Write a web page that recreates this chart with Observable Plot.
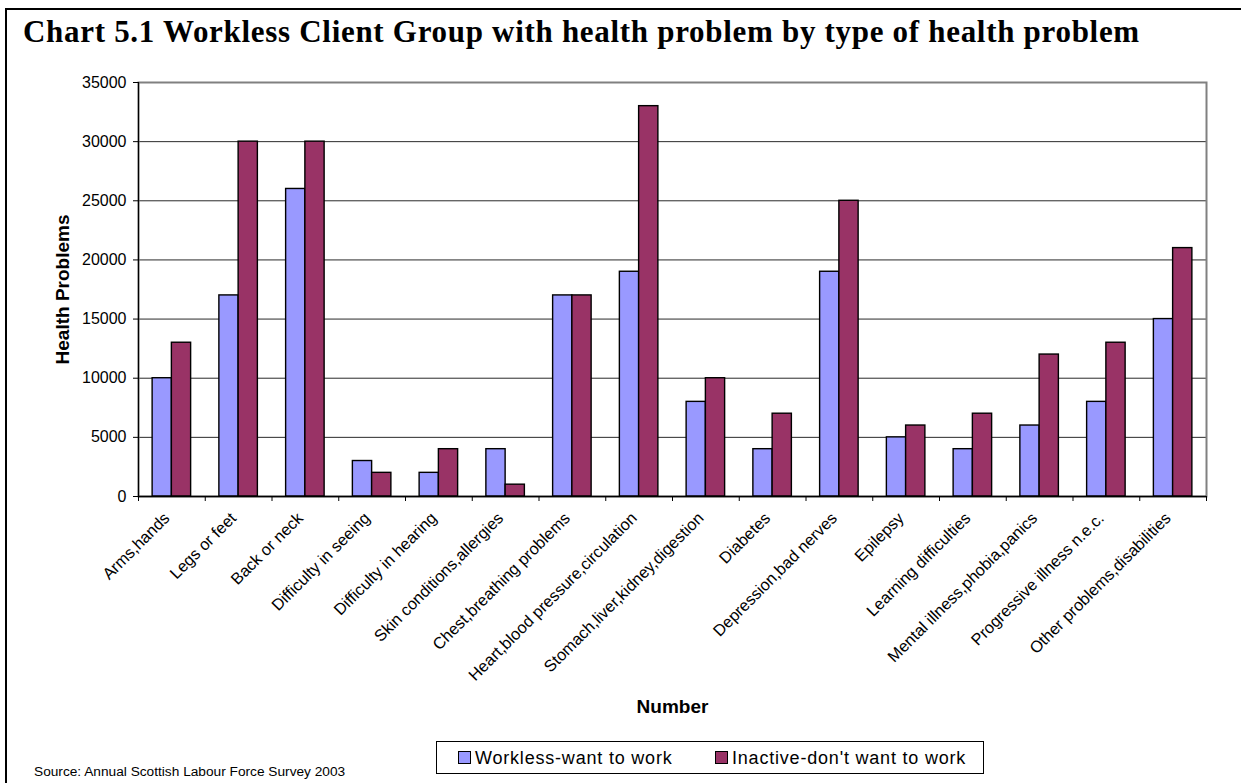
<!DOCTYPE html>
<html>
<head>
<meta charset="utf-8">
<script src="https://cdn.jsdelivr.net/npm/d3@7"></script>
<script src="https://cdn.jsdelivr.net/npm/@observablehq/plot@0.6"></script>
<style>
  html, body { margin: 0; padding: 0; background: #fff; }
  #wrap { position: relative; width: 1241px; height: 783px; overflow: hidden; background: #fff; }
  #border { position: absolute; left: 5px; top: 8px; width: 1400px; height: 900px; border-left: 2px solid #000; border-top: 2px solid #000; }
  #chart { position: absolute; left: 0; top: 60px; }
  #overlay { position: absolute; left: 0; top: 0; pointer-events: none; }
  g[aria-label="y-axis label"] text, g[aria-label="x-axis label"] text { font-weight: bold; font-size: 19px; }
</style>
</head>
<body>
<div id="wrap">
  <div id="border"></div>
  <div id="chart"></div>
  <svg id="overlay" width="1241" height="783"></svg>
</div>
<script>
// ---- Data ----
const categories = [
  "Arms,hands", "Legs or feet", "Back or neck", "Difficulty in seeing",
  "Difficulty in hearing", "Skin conditions,allergies", "Chest,breathing problems",
  "Heart,blood pressure,circulation", "Stomach,liver,kidney,digestion", "Diabetes",
  "Depression,bad nerves", "Epilepsy", "Learning difficulties",
  "Mental illness,phobia,panics", "Progressive illness n.e.c.", "Other problems,disabilities"
];
const seriesNames = ["Workless-want to work", "Inactive-don't want to work"];
const worklessWantWork = [10000, 17000, 26000, 3000, 2000, 4000, 17000, 19000, 8000, 4000, 19000, 5000, 4000, 6000, 8000, 15000];
const inactiveNotWantWork = [13000, 30000, 30000, 2000, 4000, 1000, 17000, 33000, 10000, 7000, 25000, 6000, 7000, 12000, 13000, 21000];
const yTicks = [0, 5000, 10000, 15000, 20000, 25000, 30000, 35000];
const seriesColors = ["#9999FF", "#993366"];
const titleText = "Chart 5.1 Workless Client Group with health problem by type of health problem";
const yLabel = "Health Problems";
const xLabel = "Number";
const sourceText = "Source: Annual Scottish Labour Force Survey 2003";

// ---- Build table ----
const seriesValues = [worklessWantWork, inactiveNotWantWork];
const rows = [];
categories.forEach((c, i) => {
  seriesNames.forEach((s, k) => {
    rows.push({category: c, i, series: s, k, value: seriesValues[k][i]});
  });
});

// layout fractions of each category slot
const barFrac = 0.2884;
const groupOffset = (1 - 2 * barFrac) / 2;

const font = "Arial, 'Liberation Sans', Helvetica, sans-serif";

const plot = Plot.plot({
  width: 1241,
  height: 660,
  marginTop: 22,
  marginBottom: 224,
  marginLeft: 138,
  marginRight: 35,
  style: {fontFamily: font, fontSize: "16px", color: "#000", background: "transparent", overflow: "visible"},
  x: {domain: [0, categories.length], axis: null},
  y: {domain: [0, 35000], axis: null},
  color: {domain: seriesNames, range: seriesColors},
  marks: [
    Plot.gridY(yTicks, {stroke: "#2a2a2a", strokeOpacity: 1, strokeWidth: 1}),
    Plot.frame({stroke: "#808080", strokeWidth: 2}),
    Plot.rectY(rows, {
      x1: d => d.i + groupOffset + d.k * barFrac,
      x2: d => d.i + groupOffset + (d.k + 1) * barFrac,
      y: "value",
      fill: "series",
      stroke: "#000",
      strokeWidth: 1.4
    }),
    Plot.ruleX([0], {stroke: "#000", strokeWidth: 1.2}),
    Plot.ruleY([0], {stroke: "#000", strokeWidth: 1.5}),
    Plot.axisY({
      ticks: yTicks, tickSize: 5, tickPadding: 7, tickFormat: d => String(d),
      fontSize: 16, label: yLabel, labelAnchor: "center", labelOffset: 83, labelArrow: "none"
    }),
    Plot.axisX({
      ticks: d3.range(categories.length + 1), tickSize: 5, tickFormat: () => "", label: null
    }),
    Plot.axisX({
      ticks: categories.map((c, i) => i + 0.5), tickSize: 0, tickPadding: 19, tickRotate: -45, dx: -5,
      tickFormat: v => categories[Math.floor(v)], fontSize: 16.3,
      label: xLabel, labelAnchor: "center", labelOffset: 216, labelArrow: "none"
    })
  ]
});
document.getElementById("chart").appendChild(plot);

// ---- Title, legend, source ----
const ov = d3.select("#overlay");
ov.append("text")
  .attr("x", 23).attr("y", 42)
  .attr("font-family", "'Liberation Serif', 'Times New Roman', serif")
  .attr("font-weight", "bold").attr("font-size", 31).attr("letter-spacing", 0.7)
  .text(titleText);

ov.append("text")
  .attr("x", 34).attr("y", 776)
  .attr("font-family", font).attr("font-size", 13.7)
  .text(sourceText);

const lg = ov.append("g");
lg.append("rect").attr("x", 436.5).attr("y", 741.5).attr("width", 547).attr("height", 32)
  .attr("fill", "#fff").attr("stroke", "#000").attr("stroke-width", 1);
const itemX = [458, 715];
seriesNames.forEach((s, k) => {
  lg.append("rect").attr("x", itemX[k] + 0.5).attr("y", 751.5).attr("width", 12).attr("height", 12)
    .attr("fill", seriesColors[k]).attr("stroke", "#000").attr("stroke-width", 1);
  lg.append("text").attr("x", itemX[k] + 17).attr("y", 764)
    .attr("font-family", font).attr("font-size", 18).attr("letter-spacing", 0.8)
    .text(s);
});
</script>
</body>
</html>
